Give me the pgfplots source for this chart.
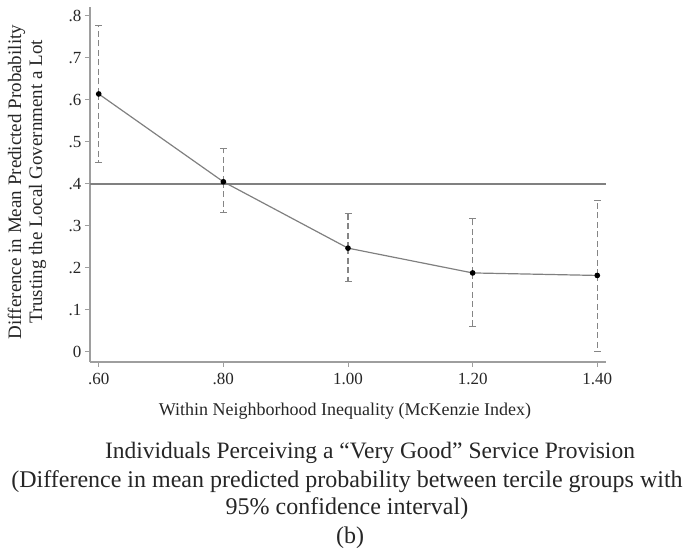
\documentclass[border=0pt]{standalone}
\usepackage{pgfplots}
\pgfplotsset{compat=1.18}
\usepackage{fontspec}
\setmainfont{Liberation Serif}
\definecolor{axgray}{gray}{0.62}
\definecolor{lngray}{gray}{0.5}
\definecolor{ebgray}{gray}{0.52}
\begin{document}
\begin{tikzpicture}[x=1pt,y=1pt]
\path (-90,-186) rectangle (603,362);
\begin{axis}[
  at={(0,0)}, anchor=south west,
  scale only axis, width=516pt, height=355pt,
  xmin=0.586, xmax=1.414, ymin=-0.024, ymax=0.821,
  axis x line*=bottom, axis y line*=left,
  axis line style={draw=axgray, line width=1.6pt, -},
  tick style={draw=axgray, line width=1pt},
  tick align=outside, major tick length=5pt,
  xtick={0.6,0.8,1.0,1.2,1.4},
  xticklabels={.60,.80,1.00,1.20,1.40},
  ytick={0,0.1,0.2,0.3,0.4,0.5,0.6,0.7,0.8},
  yticklabels={0,.1,.2,.3,.4,.5,.6,.7,.8},
  ticklabel style={font=\fontsize{17}{17}\selectfont, text=black!85},
  xticklabel style={yshift=-3pt},
  /pgf/number format/assume math mode=true,
  clip=false,
]
\addplot[draw=none, forget plot,
  error bars/.cd, y dir=both, y explicit,
  error bar style={draw=ebgray, line width=1.3pt, dash pattern=on 6pt off 3.5pt},
  error mark options={rotate=90, draw=ebgray, mark size=3.5pt, line width=1.1pt, solid}]
coordinates {
  (0.6,0.614) += (0,0.162) -= (0,0.163)
  (0.8,0.405) += (0,0.080) -= (0,0.073)
  (1.0,0.247) += (0,0.082) -= (0,0.080)
  (1.2,0.188) += (0,0.129) -= (0,0.128)
  (1.4,0.182) += (0,0.178) -= (0,0.180)
};
\addplot[draw=lngray, line width=1.6pt, forget plot] coordinates {(0.586,0.4) (1.414,0.4)};
\addplot[draw=lngray, line width=1.2pt, mark=*, mark size=2.2pt,
  mark options={fill=black, draw=black}]
coordinates {(0.6,0.614) (0.8,0.405) (1.0,0.247) (1.2,0.188) (1.4,0.182)};
\end{axis}
\node[rotate=90, align=center, font=\fontsize{19}{21}\selectfont, text=black!85] at (-63,180)
  {Difference in Mean Predicted Probability\\Trusting the Local Government a Lot};
\node[anchor=base, font=\fontsize{18}{18}\selectfont, text=black!85] at (255,-54)
  {Within Neighborhood Inequality (McKenzie Index)};
\node[anchor=base, font=\fontsize{23.5}{24}\selectfont, text=black!85] at (280,-96)
  {Individuals Perceiving a “Very Good” Service Provision};
\node[anchor=base, font=\fontsize{24}{24}\selectfont, text=black!85] at (257,-125)
  {(Difference in mean predicted probability between tercile groups with};
\node[anchor=base, font=\fontsize{24}{24}\selectfont, text=black!85] at (257,-152)
  {95\% confidence interval)};
\node[anchor=base, font=\fontsize{24}{24}\selectfont, text=black!85] at (260,-181)
  {(b)};
\end{tikzpicture}
\end{document}
